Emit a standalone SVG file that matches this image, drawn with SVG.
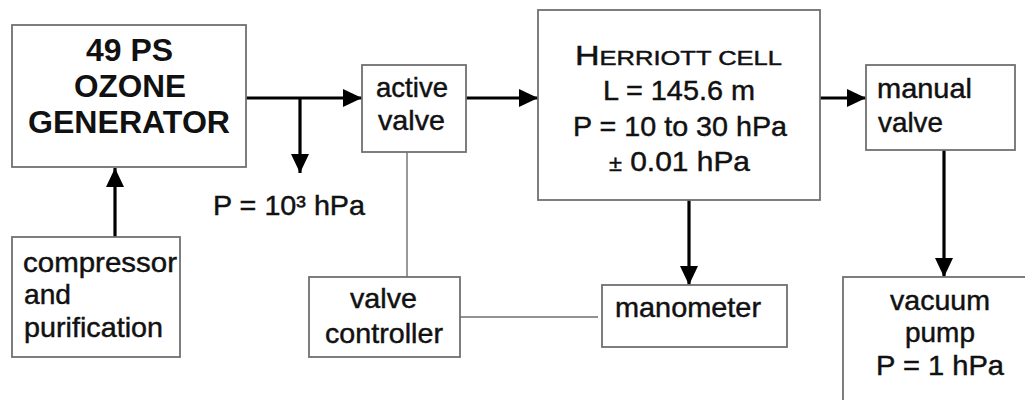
<svg xmlns="http://www.w3.org/2000/svg" width="1025" height="400" viewBox="0 0 1025 400">
<style>
.box{fill:#fff;stroke:#707070;stroke-width:1.8}
.t{font-family:"Liberation Sans",Arial,sans-serif;font-size:28px;fill:#111;stroke:#111;stroke-width:0.45}
.b{font-family:"Liberation Sans",Arial,sans-serif;font-size:31px;font-weight:bold;fill:#111}
.thick{stroke:#000;stroke-width:3.2;fill:none}
.thin{stroke:#6e6e6e;stroke-width:1.4;fill:none}
</style>
<defs>
<marker id="ah" markerUnits="userSpaceOnUse" markerWidth="19" markerHeight="18" refX="19" refY="9" orient="auto">
<path d="M0,0 L19,9 L0,18 z" fill="#000"/>
</marker>
</defs>
<rect width="1025" height="400" fill="#fff"/>
<g id="connectors">
<line class="thick" x1="246" y1="98" x2="362" y2="98" marker-end="url(#ah)"/>
<line class="thick" x1="300" y1="98" x2="300" y2="173" marker-end="url(#ah)"/>
<line class="thick" x1="115" y1="237" x2="115" y2="168" marker-end="url(#ah)"/>
<line class="thick" x1="466" y1="98" x2="538" y2="98" marker-end="url(#ah)"/>
<line class="thick" x1="820" y1="98" x2="866" y2="98" marker-end="url(#ah)"/>
<line class="thick" x1="689" y1="200" x2="689" y2="285" marker-end="url(#ah)"/>
<line class="thick" x1="944" y1="150" x2="944" y2="277" marker-end="url(#ah)"/>
<line class="thin" x1="407" y1="152" x2="407" y2="277"/>
<line class="thin" x1="460" y1="317" x2="598" y2="317"/>
</g>
<g id="ozone-generator">
<rect class="box" x="12" y="25" width="234" height="142"/>
<text class="b" x="86" y="61" textLength="87" lengthAdjust="spacingAndGlyphs">49 PS</text>
<text class="b" x="74" y="97" textLength="112" lengthAdjust="spacingAndGlyphs">OZONE</text>
<text class="b" x="28" y="133" textLength="202" lengthAdjust="spacingAndGlyphs">GENERATOR</text>
</g>
<g id="pressure-label">
<text class="t" x="213" y="215" textLength="152" lengthAdjust="spacingAndGlyphs">P = 10³ hPa</text>
</g>
<g id="compressor">
<rect class="box" x="12" y="237" width="168" height="120"/>
<text class="t" x="23" y="272" textLength="154" lengthAdjust="spacingAndGlyphs">compressor</text>
<text class="t" x="24" y="304" textLength="47" lengthAdjust="spacingAndGlyphs">and</text>
<text class="t" x="24" y="337" textLength="139" lengthAdjust="spacingAndGlyphs">purification</text>
</g>
<g id="active-valve">
<rect class="box" x="362" y="65" width="104" height="87"/>
<text class="t" x="376" y="97" textLength="72" lengthAdjust="spacingAndGlyphs">active</text>
<text class="t" x="378" y="130" textLength="67" lengthAdjust="spacingAndGlyphs">valve</text>
</g>
<g id="herriott-cell">
<rect class="box" x="538" y="10" width="282" height="190"/>
<text class="t" x="575" y="65" textLength="207" lengthAdjust="spacingAndGlyphs"><tspan font-size="28">H</tspan><tspan font-size="21">ERRIOTT CELL</tspan></text>
<text class="t" x="603" y="100" textLength="152" lengthAdjust="spacingAndGlyphs">L = 145.6 m</text>
<text class="t" x="573" y="136" textLength="214" lengthAdjust="spacingAndGlyphs">P = 10 to 30 hPa</text>
<text class="t" x="609" y="171" textLength="141" lengthAdjust="spacingAndGlyphs"><tspan font-size="22">±</tspan> 0.01 hPa</text>
</g>
<g id="manual-valve">
<rect class="box" x="866" y="65" width="149" height="85"/>
<text class="t" x="877" y="98" textLength="95" lengthAdjust="spacingAndGlyphs">manual</text>
<text class="t" x="878" y="132" textLength="65" lengthAdjust="spacingAndGlyphs">valve</text>
</g>
<g id="valve-controller">
<rect class="box" x="309" y="277" width="151" height="80"/>
<text class="t" x="350" y="308" textLength="67" lengthAdjust="spacingAndGlyphs">valve</text>
<text class="t" x="325" y="343" textLength="118" lengthAdjust="spacingAndGlyphs">controller</text>
</g>
<g id="manometer">
<rect class="box" x="602" y="285" width="185" height="62"/>
<text class="t" x="615" y="317" textLength="146" lengthAdjust="spacingAndGlyphs">manometer</text>
</g>
<g id="vacuum-pump">
<rect class="box" x="843" y="277" width="200" height="140"/>
<text class="t" x="890" y="310" textLength="100" lengthAdjust="spacingAndGlyphs">vacuum</text>
<text class="t" x="905" y="342" textLength="70" lengthAdjust="spacingAndGlyphs">pump</text>
<text class="t" x="876" y="375" textLength="128" lengthAdjust="spacingAndGlyphs">P = 1 hPa</text>
</g>
</svg>
